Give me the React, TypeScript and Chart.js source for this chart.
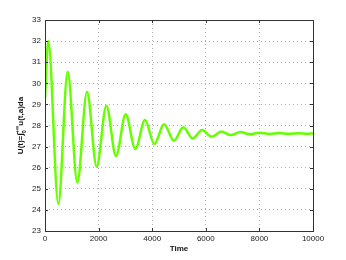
import React, { useEffect, useRef } from "react";
import { Chart, registerables } from "chart.js";

Chart.register(...registerables);

const times = [0, 123, 497, 846, 1206, 1567, 1928, 2289, 2649, 3010, 3371, 3731, 4080, 4440, 4813, 5160, 5510, 5858, 6220, 6580, 6928, 7290, 7650, 8010, 8370, 8730, 9090, 9450, 9810, 10000];
const values = [29.25, 32.0, 24.28, 30.55, 25.3, 29.6, 26.05, 28.94, 26.55, 28.53, 26.89, 28.26, 27.12, 28.06, 27.28, 27.92, 27.39, 27.79, 27.47, 27.71, 27.55, 27.69, 27.58, 27.66, 27.6, 27.64, 27.61, 27.63, 27.61, 27.62];
const xTitle = "Time";
const yTitleParts = [
  { t: "U(t)=∫", k: "n" },
  { t: "0", k: "sub" },
  { t: "+∞", k: "sup" },
  { t: "u(t,a)da", k: "n" },
];
const yMin = 23, yMax = 33, xMin = 0, xMax = 10000;

const FONT = "'Liberation Sans', Arial, sans-serif";

const framePlugin = {
  id: "frame",
  afterDraw(chart: any) {
    const { ctx, chartArea: a, scales } = chart;
    ctx.save();
    ctx.strokeStyle = "#333";
    ctx.lineWidth = 1;
    ctx.strokeRect(Math.round(a.left) + 0.5, Math.round(a.top) + 0.5, Math.round(a.right - a.left), Math.round(a.bottom - a.top));
    const tl = 3;
    ctx.beginPath();
    scales.x.ticks.forEach((tk: any) => {
      const px = Math.round(scales.x.getPixelForValue(tk.value)) + 0.5;
      ctx.moveTo(px, a.bottom); ctx.lineTo(px, a.bottom - tl);
      ctx.moveTo(px, a.top); ctx.lineTo(px, a.top + tl);
    });
    scales.y.ticks.forEach((tk: any) => {
      const py = Math.round(scales.y.getPixelForValue(tk.value)) + 0.5;
      ctx.moveTo(a.left, py); ctx.lineTo(a.left + tl, py);
      ctx.moveTo(a.right, py); ctx.lineTo(a.right - tl, py);
    });
    ctx.stroke();
    // y title
    ctx.translate(21, (a.top + a.bottom) / 2);
    ctx.rotate(-Math.PI / 2);
    ctx.fillStyle = "#111";
    ctx.textBaseline = "middle";
    const big = "bold 8px " + FONT;
    const small = "bold 6px " + FONT;
    const widths: number[] = [];
    yTitleParts.forEach((p) => {
      ctx.font = p.k === "n" ? big : small;
      widths.push(ctx.measureText(p.t).width);
    });
    const total = widths[0] + Math.max(widths[1], widths[2]) + widths[3];
    let x = -total / 2;
    ctx.textAlign = "left";
    ctx.font = big; ctx.fillText(yTitleParts[0].t, x, 0); x += widths[0];
    ctx.font = small; ctx.fillText(yTitleParts[1].t, x, 3);
    ctx.fillText(yTitleParts[2].t, x, -3.5);
    x += Math.max(widths[1], widths[2]);
    ctx.font = big; ctx.fillText(yTitleParts[3].t, x, 0);
    ctx.restore();
  },
};

export default function App() {
  const ref = useRef<HTMLCanvasElement>(null);
  useEffect(() => {
    const chart = new Chart(ref.current!, {
      type: "line",
      data: {
        datasets: [
          {
            data: times.map((t, i) => ({ x: t, y: values[i] })),
            borderColor: "#66ff00",
            borderWidth: 2.5,
            pointRadius: 0,
            cubicInterpolationMode: "monotone",
            fill: false,
          },
        ],
      },
      options: {
        animation: false,
        responsive: false,
        layout: { padding: { top: 20, right: 33, left: 0, bottom: 0 } },
        plugins: { legend: { display: false }, tooltip: { enabled: false } },
        scales: {
          x: {
            type: "linear",
            min: xMin,
            max: xMax,
            border: { display: false, dash: [1, 3] },
            grid: { color: "#b0b0b0", drawTicks: false },
            ticks: { stepSize: 2000, font: { size: 8, family: FONT }, color: "#222", padding: 3, maxRotation: 0, callback: (v: any) => String(v) },
            title: { display: true, text: xTitle, font: { size: 8, weight: "bold", family: FONT }, color: "#111", padding: { top: 0, bottom: 6 } },
            afterFit: (s: any) => { s.height = 29; },
          },
          y: {
            min: yMin,
            max: yMax,
            border: { display: false, dash: [1, 3] },
            grid: { color: "#b0b0b0", drawTicks: false },
            ticks: { stepSize: 1, font: { size: 8, family: FONT }, color: "#222", padding: 4, callback: (v: any) => String(v) },
            afterFit: (s: any) => { s.width = 45; },
          },
        },
      },
      plugins: [framePlugin],
    } as any);
    return () => chart.destroy();
  }, []);
  return (
    <div style={{ position: "fixed", left: 0, top: 0, width: 346, height: 260, background: "#fff" }}>
      <canvas ref={ref} width={346} height={260} />
    </div>
  );
}
